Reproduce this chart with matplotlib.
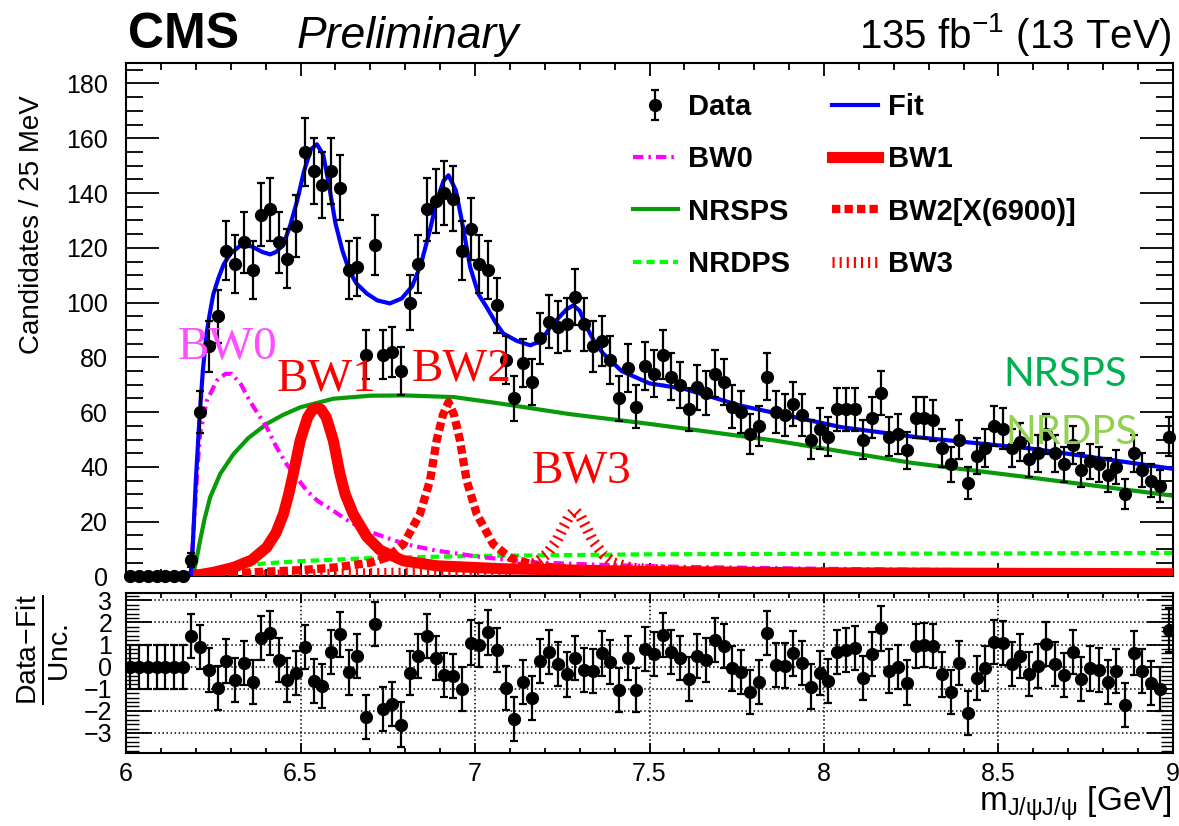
import numpy as np
import matplotlib
matplotlib.use('Agg')
import matplotlib.pyplot as plt
from matplotlib.ticker import MultipleLocator

plt.rcParams['font.family'] = ['Liberation Sans', 'DejaVu Sans']
plt.rcParams['mathtext.fontset'] = 'custom'
plt.rcParams['mathtext.rm'] = 'Liberation Sans'
plt.rcParams['mathtext.it'] = 'Liberation Sans:italic'
plt.rcParams['mathtext.bf'] = 'Liberation Sans:bold'

# histogram: 120 bins of 25 MeV from 6 to 9 GeV
bin_lo = 6.0
bin_w = 0.025
counts = [0, 0, 0, 0, 0, 0, 0, 6, 60, 84,
          95, 119, 114, 122, 112, 132, 134, 122, 116, 128,
          155, 148, 143, 148, 142, 112, 113, 81, 121, 81,
          82, 75, 100, 114, 134, 137, 140, 138, 119, 127,
          114, 112, 99, 79, 65, 78, 71, 87, 93, 91,
          92, 102, 92, 84, 86, 79, 65, 76, 62, 77,
          74, 81, 73, 70, 61, 69, 67, 74, 71, 62,
          60, 52, 55, 73, 60, 59, 63, 59, 50, 54,
          51, 61, 61, 61, 50, 58, 67, 51, 52, 46,
          58, 58, 57, 47, 41, 50, 34, 44, 47, 55,
          54, 47, 49, 43, 45, 52, 45, 41, 48, 39,
          42, 41, 37, 40, 30, 45, 39, 35, 33, 51]

# (data - fit) / unc. per bin
pulls = [0, 0, 0, 0, 0, 0, 0,
         1.40, 0.90, -0.15, -0.98, 0.26, -0.60, 0.15, -0.68, 1.28, 1.51,
         0.30, -0.60, -0.27, 0.90, -0.63, -0.86, 0.65, 1.46, -0.26, 0.48,
         -2.29, 1.92, -1.92, -1.70, -2.62, -0.27, 0.50, 1.40, 0.41, -0.38,
         -0.42, -1.01, 1.09, 0.98, 1.55, 0.75, -0.98, -2.37, -0.68, -1.43,
         0.26, 0.68, 0.11, -0.35, 0.38, -0.15, -0.20, 0.60, 0.23, -1.06,
         0.41, -1.06, 0.80, 0.56, 1.43, 0.68, 0.41, -0.57, 0.48, 0.30,
         1.21, 0.94, -0.08, -0.23, -1.13, -0.68, 1.54, 0.08, 0.05, 0.60,
         0.15, -0.90, -0.30, -0.65, 0.68, 0.75, 0.86, -0.53, 0.57, 1.73,
         -0.20, 0.00, -0.72, 0.94, 0.98, 0.94, -0.35, -1.13, 0.15, -2.11,
         -0.53, -0.08, 1.10, 1.06, 0.11, 0.48, -0.33, 0.03, 1.03, 0.12,
         -0.38, 0.68, -0.57, -0.08, -0.15, -0.71, -0.20, -1.73, 0.63, -0.20,
         -0.75, -1.01, 1.66]

# fit curves
fit_x = [6.0, 6.185, 6.19, 6.2, 6.21, 6.22, 6.23, 6.24, 6.25, 6.265, 6.28, 6.3, 6.33,
         6.36, 6.39, 6.413, 6.43, 6.45, 6.47, 6.49, 6.51, 6.53, 6.547, 6.565, 6.58,
         6.6, 6.62, 6.64, 6.66, 6.69, 6.72, 6.756, 6.79, 6.82, 6.845, 6.87, 6.89,
         6.91, 6.924, 6.945, 6.962, 6.986, 7.01, 7.033, 7.06, 7.081, 7.12, 7.158,
         7.19, 7.215, 7.24, 7.262, 7.282, 7.3, 7.32, 7.345, 7.368, 7.42, 7.5, 7.6,
         7.76, 8.05, 8.27, 8.6, 9.0]
fit_y = [0, 0, 8, 35, 57, 75, 88, 96, 103, 109, 114, 118, 121,
         120.5, 118.5, 117.6, 118.5, 121, 128, 137, 148, 156, 157.8, 154, 144,
         129, 119, 111.5, 107, 103.3, 100.8, 99.7, 101.5, 106, 114, 126, 137,
         144.5, 146.5, 141, 130, 113, 103, 98.4, 92.5, 88.7, 86, 84.4,
         86, 91, 94.5, 97.5, 99, 97, 91, 85, 81.3, 75, 70.5, 68.5,
         62.4, 54.5, 50.8, 46.6, 39.3]

bw0_x = [6.185, 6.195, 6.205, 6.212, 6.231, 6.26, 6.285, 6.303, 6.33, 6.355, 6.38,
         6.403, 6.43, 6.46, 6.49, 6.518, 6.55, 6.594, 6.64, 6.69, 6.75, 6.8, 6.89,
         7.03, 7.18, 7.37, 7.6, 8.0, 8.5, 9.0]
bw0_y = [0, 20, 40, 52, 64, 71.5, 74, 74, 70, 64, 59,
         54.5, 47.5, 41, 36, 31.3, 27.5, 24, 20, 16.7, 14, 11.8, 9.4,
         6.9, 5.1, 4.2, 3.5, 2.8, 2.2, 1.8]

bw1_x = [6.18, 6.25, 6.308, 6.36, 6.403, 6.43, 6.451, 6.466, 6.479, 6.499, 6.52,
         6.535, 6.547, 6.559, 6.574, 6.594, 6.613, 6.628, 6.651, 6.69, 6.728,
         6.795, 6.89, 7.08, 7.5, 8.0, 9.0]
bw1_y = [0, 1.5, 3.3, 6, 10.6, 16, 22.8, 30, 37.4, 49.6, 58,
         61, 61.5, 61, 58, 49.6, 37.4, 30, 22.8, 14.5, 9.6,
         5.7, 3.9, 2.8, 1.8, 1.3, 1.0]

bw2_x = [6.19, 6.3, 6.5, 6.6, 6.699, 6.747, 6.795, 6.842, 6.871, 6.89, 6.908, 6.924,
         6.94, 6.957, 6.976, 7.005, 7.052, 7.1, 7.176, 7.3, 7.6, 8.0, 9.0]
bw2_y = [0, 1.2, 2.3, 3.3, 5, 6.9, 11.8, 22.8, 35, 49.6, 59, 63.6,
         59, 49.6, 35, 22.8, 11.8, 6.9, 3.9, 2.5, 1.6, 1.1, 0.7]

bw3_x = [6.19, 6.6, 7.0, 7.12, 7.175, 7.206, 7.234, 7.253, 7.27, 7.286, 7.302,
         7.319, 7.338, 7.366, 7.397, 7.45, 7.6, 8.0, 9.0]
bw3_y = [0, 0.8, 1.6, 3, 5, 8.2, 13, 17.9, 22, 24, 22,
         17.9, 13, 8.2, 5, 3.0, 1.8, 1.0, 0.5]

nrsps_x = [6.19, 6.2, 6.212, 6.225, 6.241, 6.27, 6.308, 6.35, 6.403, 6.45, 6.5,
           6.594, 6.7, 6.8, 6.94, 7.08, 7.27, 7.5, 7.86, 8.25, 8.6, 9.0]
nrsps_y = [0, 5, 13, 21, 28.9, 37.5, 44.7, 50.5, 55.7, 59, 61.8,
           64.9, 66, 66.1, 65.5, 63, 59.3, 55.7, 49.6, 41.5, 36.0, 29.5]

nrdps_x = [6.19, 6.21, 6.25, 6.3, 6.4, 6.5, 6.7, 7.0, 7.5, 8.0, 8.5, 9.0]
nrdps_y = [0, 1.2, 2.5, 3.5, 4.8, 5.6, 6.7, 7.5, 8.1, 8.3, 8.4, 8.6]

x = bin_lo + bin_w * (np.arange(len(counts)) + 0.5)
counts = np.array(counts)

fig = plt.figure(figsize=(11.79, 8.26), dpi=100)
ax = fig.add_axes([0.1069, 0.3021, 0.8880, 0.6217])
ax2 = fig.add_axes([0.1069, 0.0880, 0.8880, 0.1937])

# components
l_nrdps, = ax.plot(nrdps_x, nrdps_y, color='#00ff00', lw=3, ls=(0, (2, 1.2)), label='NRDPS', zorder=2)
l_nrsps, = ax.plot(nrsps_x, nrsps_y, color='#089a08', lw=3, label='NRSPS', zorder=2)
l_bw0, = ax.plot(bw0_x, bw0_y, color='#ff00ff', lw=3, ls=(0, (2.5, 1.2, 0.6, 1.2)), label='BW0', zorder=3)
l_bw3, = ax.plot(bw3_x, bw3_y, color='red', lw=8, ls=(0, (0.19, 0.45)), solid_capstyle='butt',
                 dash_capstyle='butt', label='BW3', zorder=3)
l_bw2, = ax.plot(bw2_x, bw2_y, color='red', lw=6, ls=(0, (1.0, 0.5)), dash_capstyle='butt',
                 label='BW2[X(6900)]', zorder=3)
l_bw1, = ax.plot(bw1_x, bw1_y, color='red', lw=8, label='BW1', zorder=4)
l_fit, = ax.plot(fit_x, fit_y, color='#0000ff', lw=3, label='Fit', zorder=5)

data = ax.errorbar(x, counts, yerr=np.sqrt(counts), fmt='o', color='black', ms=8.5,
                   elinewidth=1.6, capsize=3, capthick=1.6, label='Data', zorder=10)
for art in [data[0], *data[1], *data[2]]:
    art.set_clip_on(False)

ax.set_xlim(6, 9)
ax.set_ylim(0, 187.5)
ax.xaxis.set_major_locator(MultipleLocator(0.5))
ax.xaxis.set_minor_locator(MultipleLocator(0.1))
ax.yaxis.set_major_locator(MultipleLocator(20))
ax.yaxis.set_minor_locator(MultipleLocator(5))
ax.tick_params(axis='y', which='major', direction='in', length=24, width=1.3,
               left=True, right=True, labelsize=18, pad=13)
ax.tick_params(axis='y', which='minor', direction='in', length=12, width=1.3, left=True, right=True)
ax.tick_params(axis='x', which='major', direction='in', length=9.5, width=1.3,
               top=True, bottom=True, labelbottom=False)
ax.tick_params(axis='x', which='minor', direction='in', length=5, width=1.3, top=True, bottom=True)
for s in ax.spines.values():
    s.set_linewidth(1.5)

handles = [data, l_bw0, l_nrsps, l_nrdps, l_fit, l_bw1, l_bw2, l_bw3]
ax.legend(handles=handles, labels=[h.get_label() for h in handles], ncol=2, frameon=False,
          loc='upper left', bbox_to_anchor=(0.484, 0.941), borderpad=0, borderaxespad=0,
          prop={'weight': 'bold', 'size': 21}, handlelength=1.55, handletextpad=0.35,
          columnspacing=1.45, labelspacing=0.83)

# labels on the curves
ax.text(6.149, 79.6, 'BW0', family=['Liberation Serif'], size=34, color='#ff4dff', zorder=12)
ax.text(6.432, 67.9, 'BW1', family=['Liberation Serif'], size=34, color='red', zorder=12)
ax.text(6.819, 71.6, 'BW2', family=['Liberation Serif'], size=34, color='red', zorder=12)
ax.text(7.162, 34.4, 'BW3', family=['Liberation Serif'], size=34, color='red', zorder=12)
ax.text(8.514, 69.7, 'NRSPS', family=['Lato', 'DejaVu Sans'], size=29, color='#00b050', zorder=12)
ax.text(8.521, 48.4, 'NRDPS', family=['Lato', 'DejaVu Sans'], size=29, color='#92d050', zorder=12)

# pull panel
ax2.errorbar(x, pulls, yerr=1, fmt='o', color='black', ms=8.5,
             elinewidth=1.6, capsize=3, capthick=1.6, zorder=10)
ax2.set_xlim(6, 9)
ax2.set_ylim(-3.92, 3.32)
ax2.xaxis.set_major_locator(MultipleLocator(0.5))
ax2.xaxis.set_minor_locator(MultipleLocator(0.1))
ax2.yaxis.set_major_locator(MultipleLocator(1))
ax2.yaxis.set_minor_locator(MultipleLocator(0.2))
ax2.set_xticks([6, 6.5, 7, 7.5, 8, 8.5, 9], ['6', '6.5', '7', '7.5', '8', '8.5', '9'])
ax2.grid(True, which='major', ls=':', color='black', lw=1.1)
ax2.tick_params(axis='y', which='major', direction='in', length=19, width=1.3,
                left=True, right=True, labelsize=18, pad=10)
ax2.tick_params(axis='y', which='minor', direction='in', length=9, width=1.0, left=True, right=True)
ax2.tick_params(axis='x', which='major', direction='in', length=7, width=1.3,
                top=True, bottom=True, labelsize=18, pad=6)
ax2.tick_params(axis='x', which='minor', direction='in', length=3.5, width=1.3, top=True, bottom=True)
for s in ax2.spines.values():
    s.set_linewidth(1.5)

# axis titles and header
fig.text(0.027, 0.885, 'Candidates / 25 MeV', rotation=90, ha='center', va='top', size=20)
fig.text(0.036, 0.213, r'$\frac{\mathrm{Data\!-\!Fit}}{\mathrm{Unc.}}$', rotation=90,
         ha='center', va='center', size=29)
fig.text(0.994, 0.019, r'm$_{\mathrm{J/ψJ/ψ}}$ [GeV]', ha='right', va='baseline', size=24)
fig.text(0.1086, 0.9419, 'CMS', weight='bold', size=36, va='baseline')
fig.text(0.2519, 0.9419, 'Preliminary', style='italic', size=32, va='baseline')
fig.text(0.994, 0.9419, r'135 fb$^{-1}$ (13 TeV)', ha='right', size=29, va='baseline')

fig.savefig('out.png', dpi=100)
